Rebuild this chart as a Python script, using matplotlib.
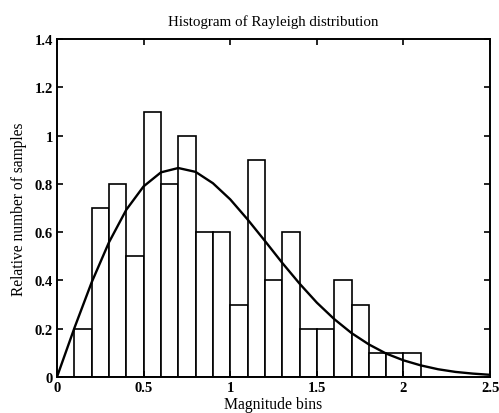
"""Histogram of Rayleigh-distributed magnitudes with the theoretical pdf overlaid."""

import numpy as np
import matplotlib.pyplot as plt

# Histogram bins (left edges) and relative heights
bin_edges = [0.0, 0.1, 0.2, 0.3, 0.4, 0.5, 0.6, 0.7, 0.8, 0.9, 1.0,
             1.1, 1.2, 1.3, 1.4, 1.5, 1.6, 1.7, 1.8, 1.9, 2.0, 2.1]
bin_heights = [0.0, 0.2, 0.7, 0.8, 0.5, 1.1, 0.8, 1.0, 0.6, 0.6, 0.3,
               0.9, 0.4, 0.6, 0.2, 0.2, 0.4, 0.3, 0.1, 0.1, 0.1]

# Theoretical curve
curve_x = [0.0, 0.1, 0.2, 0.3, 0.4, 0.5, 0.6, 0.7, 0.8, 0.9, 1.0, 1.1, 1.2,
           1.3, 1.4, 1.5, 1.6, 1.7, 1.8, 1.9, 2.0, 2.1, 2.2, 2.3, 2.4, 2.5]
curve_y = [0.0, 0.202, 0.392, 0.558, 0.693, 0.790, 0.848, 0.866, 0.850,
           0.803, 0.736, 0.653, 0.564, 0.473, 0.387, 0.308, 0.240, 0.182,
           0.135, 0.097, 0.069, 0.048, 0.032, 0.021, 0.014, 0.009]

x_ticks = [0, 0.5, 1, 1.5, 2, 2.5]
x_tick_labels = ["0", "0.5", "1", "1.5", "2", "2.5"]
y_ticks = [0, 0.2, 0.4, 0.6, 0.8, 1, 1.2, 1.4]
y_tick_labels = ["0", "0.2", "0.4", "0.6", "0.8", "1", "1.2", "1.4"]

plt.rcParams["font.family"] = ["Liberation Serif", "DejaVu Serif"]

fig = plt.figure(figsize=(4.99, 4.14), dpi=100)
ax = fig.add_axes([0.1142, 0.087, 0.868, 0.816])

widths = np.diff(bin_edges)
ax.bar(bin_edges[:-1], bin_heights, width=widths, align="edge",
       facecolor="white", edgecolor="black", linewidth=1.2)
ax.plot(curve_x, curve_y, color="black", linewidth=1.7)

ax.set_xlim(0, 2.5)
ax.set_ylim(0, 1.4)
ax.set_xticks(x_ticks)
ax.set_xticklabels(x_tick_labels, fontweight="bold")
ax.set_yticks(y_ticks)
ax.set_yticklabels(y_tick_labels, fontweight="bold")
ax.tick_params(direction="in", length=4, width=1.2, labelsize=10.5,
               top=True, right=True, pad=3)

for spine in ax.spines.values():
    spine.set_linewidth(1.4)

ax.set_title("Histogram of Rayleigh distribution", fontsize=10.8, pad=10)
ax.set_xlabel("Magnitude bins", fontsize=11.3, labelpad=1)
ax.set_ylabel("Relative number of samples", fontsize=11.2, labelpad=5)

fig.savefig("out.png", dpi=100)
